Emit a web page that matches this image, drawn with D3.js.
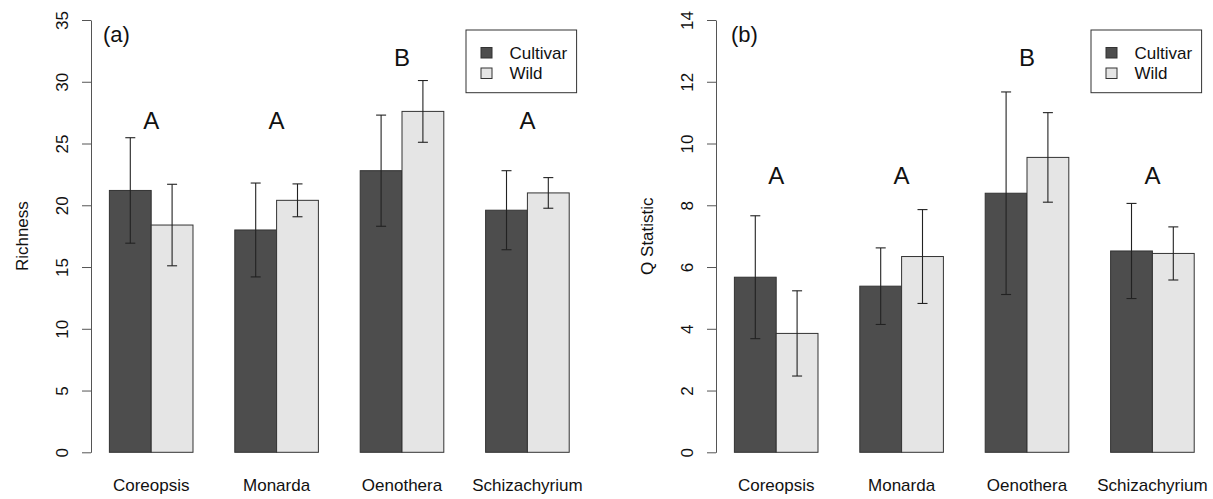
<!DOCTYPE html>
<html>
<head>
<meta charset="utf-8">
<script src="https://cdn.jsdelivr.net/npm/d3@7"></script>
<style>
  body { margin: 0; background: #fff; }
  text { font-family: "Liberation Sans", Arial, sans-serif; fill: #111; }
</style>
</head>
<body>
<div id="chart"></div>
<script>
// plant species and groups
const species = ["Coreopsis", "Monarda", "Oenothera", "Schizachyrium"];
const groups = ["Cultivar", "Wild"];

// (a) richness, mean and standard error
const richCultivar = [21.2, 18.0, 22.8, 19.6];
const richWild = [18.4, 20.4, 27.6, 21.0];
const richCultivarSE = [4.27, 3.8, 4.5, 3.2];
const richWildSE = [3.3, 1.33, 2.5, 1.24];
const richLetters = ["A", "A", "B", "A"];
const richLetterY = [26.2, 26.2, 31.3, 26.2];
const richTicks = [0, 5, 10, 15, 20, 25, 30, 35];

// (b) Q statistic, mean and standard error
const qCultivar = [5.67, 5.38, 8.39, 6.52];
const qWild = [3.85, 6.34, 9.55, 6.44];
const qCultivarSE = [1.99, 1.24, 3.28, 1.54];
const qWildSE = [1.38, 1.52, 1.45, 0.86];
const qLetters = ["A", "A", "B", "A"];
const qLetterY = [8.69, 8.69, 12.5, 8.69];
const qTicks = [0, 2, 4, 6, 8, 10, 12, 14];

const colors = {Cultivar: "#4d4d4d", Wild: "#e5e5e5"};

const W = 1213, H = 499;
const svg = d3.select("#chart").append("svg")
    .attr("width", W)
    .attr("height", H);

function panel(opts) {
    const x = d3.scaleBand()
        .domain(species)
        .range([opts.left, opts.right])
        .paddingInner(1 / 3)
        .paddingOuter(0.44 / 3);

    const xs = d3.scaleBand()
        .domain(groups)
        .range([0, x.bandwidth()]);

    const y = d3.scaleLinear()
        .domain([0, opts.max])
        .range([452.3, 20]);

    const g = svg.append("g");

    const rows = species.map((s, i) => [
        {sp: s, grp: "Cultivar", v: opts.cult[i], se: opts.cultSE[i]},
        {sp: s, grp: "Wild", v: opts.wild[i], se: opts.wildSE[i]}
    ]).flat();

    // bars
    g.append("g").selectAll("rect")
        .data(rows)
        .enter()
        .append("rect")
        .attr("x", d => x(d.sp) + xs(d.grp))
        .attr("y", d => y(d.v))
        .attr("width", xs.bandwidth())
        .attr("height", d => y(0) - y(d.v))
        .attr("fill", d => colors[d.grp])
        .attr("stroke", "#333")
        .attr("stroke-width", 1);

    // error bars
    const eb = g.append("g").selectAll("g")
        .data(rows)
        .enter()
        .append("g")
        .attr("transform", d => `translate(${x(d.sp) + xs(d.grp) + xs.bandwidth() / 2},0)`)
        .attr("stroke", "#222")
        .attr("stroke-width", 1.1);
    eb.append("line")
        .attr("y1", d => y(d.v + d.se))
        .attr("y2", d => y(d.v - d.se));
    eb.append("line")
        .attr("x1", -5).attr("x2", 5)
        .attr("y1", d => y(d.v + d.se))
        .attr("y2", d => y(d.v + d.se));
    eb.append("line")
        .attr("x1", -5).attr("x2", 5)
        .attr("y1", d => y(d.v - d.se))
        .attr("y2", d => y(d.v - d.se));

    // significance letters
    g.append("g").selectAll("text")
        .data(species)
        .enter()
        .append("text")
        .attr("x", d => x(d) + x.bandwidth() / 2)
        .attr("y", (d, i) => y(opts.letterY[i]))
        .attr("text-anchor", "middle")
        .attr("font-size", "24px")
        .text((d, i) => opts.letters[i]);

    // y axis
    const ax = g.append("g")
        .attr("transform", `translate(${opts.left},0)`)
        .call(d3.axisLeft(y).tickValues(opts.ticks).tickSize(9).tickSizeOuter(0));
    ax.select(".domain").attr("stroke", "#555");
    ax.selectAll(".tick line").attr("stroke", "#555");
    ax.selectAll(".tick text")
        .attr("transform", "rotate(-90)")
        .attr("x", 0)
        .attr("y", -23)
        .attr("dy", 0)
        .attr("text-anchor", "middle")
        .attr("font-size", "17px")
        .attr("font-family", "Liberation Sans, Arial, sans-serif")
        .attr("fill", "#111");

    // x category labels
    g.append("g").selectAll("text")
        .data(species)
        .enter()
        .append("text")
        .attr("x", d => x(d) + x.bandwidth() / 2)
        .attr("y", 491)
        .attr("text-anchor", "middle")
        .attr("font-size", "17px")
        .text(d => d);

    // y label
    g.append("text")
        .attr("transform", `translate(${opts.left - 63},${(y(0) + y(opts.max)) / 2}) rotate(-90)`)
        .attr("text-anchor", "middle")
        .attr("font-size", "17px")
        .text(opts.ylab);

    // panel tag
    g.append("text")
        .attr("x", opts.left + opts.tagDx)
        .attr("y", 42)
        .attr("font-size", "22px")
        .text(opts.tag);

    // legend
    const lx = opts.right - 11 - 110.6;
    const leg = g.append("g").attr("transform", `translate(${lx},30)`);
    leg.append("rect")
        .attr("width", 110.6)
        .attr("height", 62.7)
        .attr("fill", "#fff")
        .attr("stroke", "#333");
    groups.forEach((k, i) => {
        leg.append("rect")
            .attr("x", 15)
            .attr("y", 17.5 + i * 20.5)
            .attr("width", 11)
            .attr("height", 10.5)
            .attr("fill", colors[k])
            .attr("stroke", "#333");
        leg.append("text")
            .attr("x", 43.5)
            .attr("y", 28.5 + i * 20)
            .attr("font-size", "17px")
            .text(k);
    });
}

panel({left: 91, right: 587.6, max: 35, ticks: richTicks,
       cult: richCultivar, wild: richWild, cultSE: richCultivarSE, wildSE: richWildSE,
       letters: richLetters, letterY: richLetterY, ylab: "Richness", tag: "(a)", tagDx: 12});

panel({left: 716, right: 1212.6, max: 14, ticks: qTicks,
       cult: qCultivar, wild: qWild, cultSE: qCultivarSE, wildSE: qWildSE,
       letters: qLetters, letterY: qLetterY, ylab: "Q Statistic", tag: "(b)", tagDx: 15});
</script>
</body>
</html>
